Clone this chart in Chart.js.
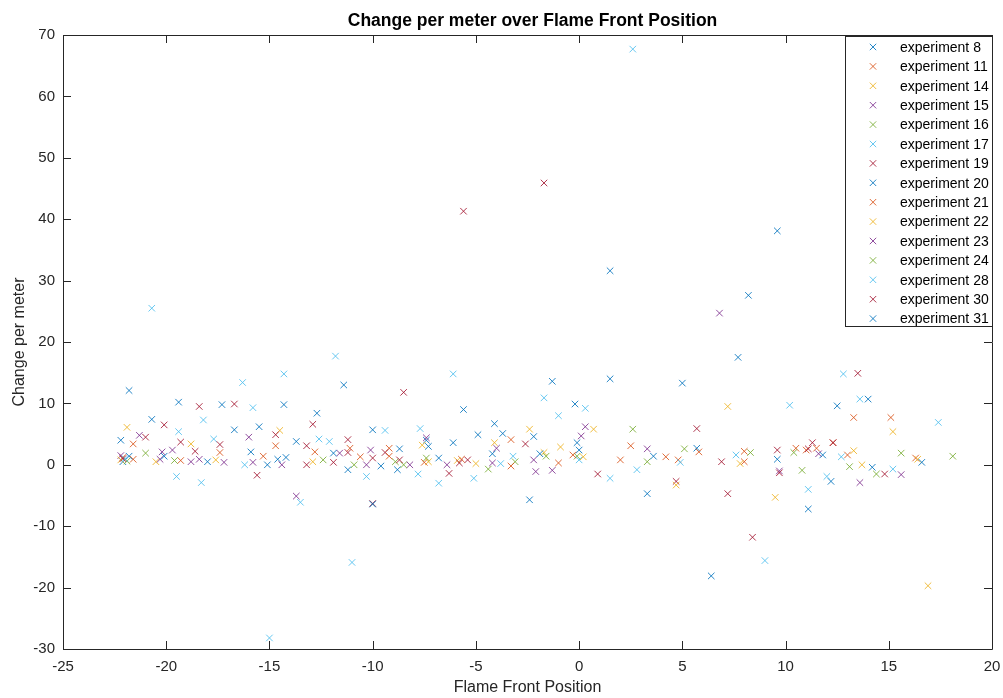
<!DOCTYPE html>
<html>
<head>
<meta charset="utf-8">
<script src="https://cdn.jsdelivr.net/npm/chart.js@4/dist/chart.umd.min.js"></script>
<style>
  html, body { margin: 0; padding: 0; background: #fff; }
  #wrap { width: 1003px; height: 698px; }
</style>
</head>
<body>
<div id="wrap"><canvas id="chart" width="1003" height="698"></canvas></div>
<script>
// values, [flame front position, change per meter]
const exp8 = [[9.6,38.1],[7.7,17.5],[-1.3,13.6],[14.0,10.7],[-17.3,9.8],[-0.2,9.9],[-15.5,6.2],[-13.7,3.8],[-10.0,5.7],[-6.1,3.6],
  [-4.9,4.9],[-9.6,-0.2],[-6.8,1.1],[-0.1,3.6],[5.7,2.7],[12.2,-2.7],[6.4,-18.1],[11.1,-7.2],[-18.0,0.5],[-14.2,1.2]];
const exp11 = [[-21.6,3.4],[-12.8,2.1],[-11.1,2.7],[-9.2,2.7],[-7.5,0.4],[-3.3,4.1],[-1.0,0.3],[2.5,3.1],[4.2,1.3],[5.8,2.1],
  [8.0,0.5],[15.1,7.7],[11.0,2.4],[13.0,1.6],[-21.6,0.9],[-15.3,1.4],[-22.1,1.2]];
const exp14 = [[-21.9,6.1],[-14.5,5.6],[-7.3,0.5],[-5.0,0.2],[-2.4,5.8],[-0.9,2.9],[0.7,5.8],[7.2,9.5],[9.5,-5.3],[13.7,0.0],
  [16.9,-19.7],[-20.5,0.5],[-12.9,0.5]];
const exp15 = [[6.8,24.7],[-20.2,2.1],[-16.0,4.5],[-11.6,1.9],[-10.3,0.0],[-6.4,0.0],[-4.0,2.7],[-2.1,-1.1],[0.3,6.2],[3.3,2.6],
  [13.6,-2.9],[9.7,-1.0],[-20.3,0.9],[-18.4,0.9],[-15.8,0.4],[-22.2,1.5]];
const exp16 = [[-21.0,1.9],[-8.9,0.5],[-7.4,1.1],[-3.1,0.5],[-0.1,1.4],[3.3,0.5],[8.3,2.0],[10.8,-0.9],[14.4,-1.5],[18.1,1.4],
  [-12.4,0.8]];
const exp17 = [[2.6,67.7],[-11.8,17.7],[-14.3,14.8],[-1.7,10.9],[13.6,10.7],[-15.8,9.3],[-19.4,5.4],[-12.6,4.2],[-9.4,5.6],[-1.0,8.0],
  [17.4,6.9],[-18.3,-2.9],[-10.3,-1.9],[-6.8,-3.0],[-3.8,0.2],[0.0,0.8],[2.8,-0.8],[7.6,1.6],[12.0,-1.9],[11.1,-4.0],
  [9.0,-15.6],[-16.2,0.0]];
const exp19 = [[-1.7,45.9],[13.5,14.9],[-18.4,9.5],[-20.1,6.5],[-12.9,6.6],[-19.3,3.7],[-13.2,3.1],[-11.2,4.1],[-11.9,0.4],[-9.4,2.0],
  [-6.3,-1.4],[-5.4,0.8],[0.9,-1.5],[4.7,-2.7],[7.2,-4.7],[9.7,-1.3],[11.3,3.6],[14.8,-1.5],[-15.6,-1.7],[-13.2,0.0]];
const exp20 = [[1.5,31.6],[-21.8,12.1],[1.5,14.0],[12.5,9.6],[-14.3,9.8],[-20.7,7.4],[-12.7,8.4],[-11.9,1.9],[-7.4,4.0],[-4.1,6.7],
  [-2.2,4.6],[-8.7,2.6],[-4.2,1.8],[0.0,2.4],[9.6,0.9],[14.2,-0.4],[-2.4,-5.7],[-21.8,1.4],[-15.1,0.0],[-22.1,0.5]];
const exp21 = [[-14.7,3.1],[-17.4,2.0],[-10.6,1.3],[-9.2,1.4],[-5.7,0.9],[-3.3,-0.2],[-0.3,1.6],[2.0,0.8],[4.8,0.8],[8.0,2.2],
  [13.3,7.7],[10.5,2.7],[11.5,2.7],[16.3,1.1],[-19.3,0.7],[12.3,3.6]];
const exp22 = [[-18.8,3.4],[-7.6,3.2],[-5.9,0.7],[-4.1,3.6],[-1.7,2.0],[0.2,1.3],[4.7,-3.3],[7.8,0.2],[13.3,2.3],[15.2,5.4],
  [16.4,0.9],[-17.6,0.8],[-22.2,0.8]];
const exp23 = [[-21.3,4.8],[-19.7,2.4],[-7.4,4.4],[-10.1,2.4],[-8.2,0.0],[-4.2,0.3],[-2.2,0.8],[-1.3,-0.9],[0.1,4.7],[11.6,1.8],
  [15.6,-1.6],[-13.7,-5.1],[-18.8,0.5],[-17.2,0.4],[-14.4,0.0]];
const exp24 = [[-10.9,0.0],[-8.5,0.0],[-4.4,-0.7],[-1.6,1.4],[2.6,5.8],[5.1,2.6],[10.4,2.0],[13.1,-0.3],[15.6,1.9],[-19.6,0.7],
  [-21.9,0.6]];
const exp28 = [[-20.7,25.5],[-16.3,13.4],[-6.1,14.8],[12.8,14.8],[10.2,9.7],[-18.2,7.3],[-17.7,4.2],[-12.1,3.8],[-7.7,5.9],[0.3,9.2],
  [-19.5,-1.9],[-13.5,-6.1],[-7.8,-1.5],[-5.1,-2.2],[-3.2,1.4],[1.5,-2.2],[4.9,0.4],[12.7,1.3],[15.2,-0.7],[-11.0,-15.9],
  [-15.0,-28.2],[-22.0,1.0]];
const exp30 = [[-5.6,41.3],[-8.5,11.8],[-16.7,9.9],[-14.7,4.9],[-21.0,4.5],[-17.4,3.3],[-18.6,2.2],[-11.2,2.0],[-10.0,1.1],[-8.7,0.8],
  [-5.8,0.3],[-2.6,3.4],[5.7,5.9],[6.9,0.5],[9.6,2.4],[11.1,2.6],[12.3,3.6],[8.4,-11.8],[-10.0,-6.3],[-22.1,1.0]];
const exp31 = [[8.2,27.6],[-11.4,13.0],[5.0,13.3],[-19.4,10.2],[-5.6,9.0],[-16.7,5.7],[-22.2,4.0],[-15.9,2.1],[-7.3,3.0],[-3.7,5.1],
  [-11.2,-0.8],[-8.8,-0.8],[-1.9,1.8],[3.6,1.4],[11.8,1.6],[16.6,0.4],[3.3,-4.7],[-20.1,1.4],[-14.6,0.9],[-10.0,-6.4]];

const seriesNames = ['experiment 8', 'experiment 11', 'experiment 14', 'experiment 15', 'experiment 16',
  'experiment 17', 'experiment 19', 'experiment 20', 'experiment 21', 'experiment 22', 'experiment 23',
  'experiment 24', 'experiment 28', 'experiment 30', 'experiment 31'];
const seriesData = [exp8, exp11, exp14, exp15, exp16, exp17, exp19, exp20, exp21, exp22, exp23, exp24, exp28, exp30, exp31];

// matlab default colour order (a bit faded, the thin markers look paler)
const colorOrder = ['rgba(0,114,189,0.85)', 'rgba(217,83,25,0.85)', 'rgba(237,177,32,0.85)', 'rgba(126,47,142,0.85)',
  'rgba(119,172,48,0.85)', 'rgba(77,190,238,0.85)', 'rgba(162,20,47,0.85)'];

const FONT = "'Liberation Sans', Arial, Helvetica, sans-serif";
const AXIS_COLOR = '#262626';
const TICK_LEN = 8;

const datasets = seriesData.map((pts, i) => ({
  label: seriesNames[i],
  data: pts.map(p => ({ x: p[0], y: p[1] })),
  showLine: false,
  pointStyle: 'crossRot',
  pointRadius: 4.6,
  pointBorderWidth: 1,
  borderColor: colorOrder[i % 7],
  backgroundColor: colorOrder[i % 7],
  order: seriesData.length - i // later experiments on top, like matlab
}));

// box, inward ticks, title and legend the matlab way
const matlabAxes = {
  id: 'matlabAxes',
  beforeDatasetsDraw(chart) {
    const { ctx, chartArea: a, scales: { x, y } } = chart;
    ctx.save();
    ctx.strokeStyle = AXIS_COLOR;
    ctx.lineWidth = 1;
    ctx.beginPath();
    ctx.rect(a.left + 0.5, a.top + 0.5, a.right - a.left, a.bottom - a.top);
    x.ticks.forEach(t => {
      const px = Math.round(x.getPixelForValue(t.value)) + 0.5;
      ctx.moveTo(px, a.bottom); ctx.lineTo(px, a.bottom - TICK_LEN);
      ctx.moveTo(px, a.top); ctx.lineTo(px, a.top + TICK_LEN);
    });
    y.ticks.forEach(t => {
      const py = Math.round(y.getPixelForValue(t.value)) + 0.5;
      ctx.moveTo(a.left, py); ctx.lineTo(a.left + TICK_LEN, py);
      ctx.moveTo(a.right, py); ctx.lineTo(a.right - TICK_LEN, py);
    });
    ctx.stroke();
    ctx.restore();
  },
  afterDraw(chart) {
    const { ctx, chartArea: a } = chart;
    ctx.save();
    // title
    ctx.fillStyle = '#000';
    ctx.font = 'bold 17.5px ' + FONT;
    ctx.textAlign = 'center';
    ctx.textBaseline = 'middle';
    ctx.fillText('Change per meter over Flame Front Position', (a.left + a.right) / 2 + 5, 21);

    // legend
    const lx = 845, ly = a.top + 1, lw = a.right - lx, lh = 290;
    ctx.fillStyle = '#fff';
    ctx.fillRect(lx, ly, lw, lh);
    ctx.strokeStyle = AXIS_COLOR;
    ctx.lineWidth = 1;
    ctx.strokeRect(lx + 0.5, ly + 0.5, lw, lh);
    ctx.font = '14px ' + FONT;
    ctx.textAlign = 'left';
    chart.data.datasets.forEach((ds, i) => {
      const cy = ly + 11 + i * 19.4;
      const cx = 873;
      const r = 3.2;
      ctx.strokeStyle = ds.borderColor;
      ctx.beginPath();
      ctx.moveTo(cx - r, cy - r); ctx.lineTo(cx + r, cy + r);
      ctx.moveTo(cx - r, cy + r); ctx.lineTo(cx + r, cy - r);
      ctx.stroke();
      ctx.fillStyle = '#000';
      ctx.fillText(ds.label, 900, cy + 1);
    });
    ctx.restore();
  }
};

new Chart(document.getElementById('chart'), {
  type: 'scatter',
  data: { datasets },
  options: {
    responsive: false,
    animation: false,
    layout: { padding: { top: 35, right: 11, left: 0, bottom: 0 } },
    plugins: {
      legend: { display: false },
      tooltip: { enabled: false },
      title: { display: false }
    },
    scales: {
      x: {
        type: 'linear',
        min: -25,
        max: 20,
        ticks: { stepSize: 5, color: AXIS_COLOR, font: { family: FONT, size: 15 }, padding: 9, maxRotation: 0 },
        grid: { display: false, drawTicks: false },
        border: { display: false },
        title: { display: true, text: 'Flame Front Position', color: AXIS_COLOR,
                 font: { family: FONT, size: 16 }, padding: { top: 0, bottom: 1 } },
        afterFit(s) { s.height = 49; s.paddingLeft = 0; s.paddingRight = 0; }
      },
      y: {
        type: 'linear',
        min: -30,
        max: 70,
        ticks: { stepSize: 10, color: AXIS_COLOR, font: { family: FONT, size: 15 }, padding: 8 },
        grid: { display: false, drawTicks: false },
        border: { display: false },
        title: { display: true, text: 'Change per meter', color: AXIS_COLOR,
                 font: { family: FONT, size: 16 }, padding: { top: 10, bottom: 0 } },
        afterFit(s) { s.width = 63; s.paddingTop = 0; s.paddingBottom = 0; }
      }
    }
  },
  plugins: [matlabAxes]
});
</script>
</body>
</html>
